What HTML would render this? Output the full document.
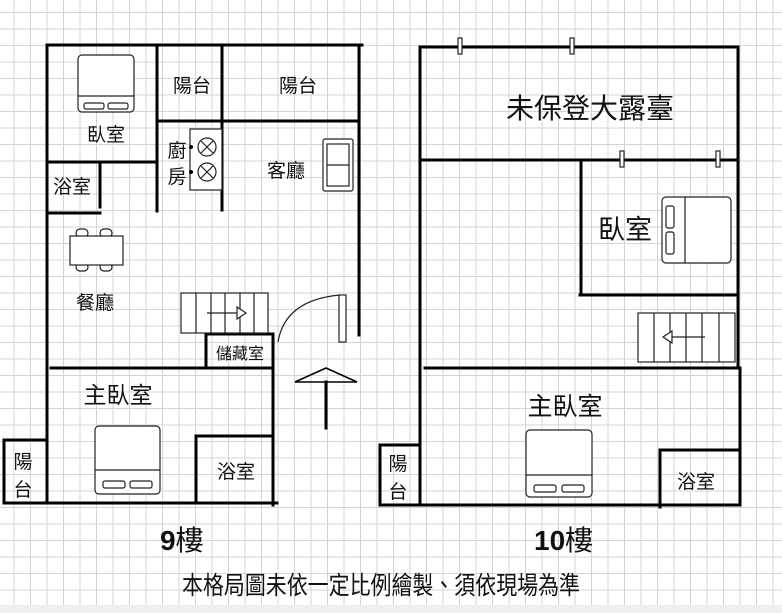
<!DOCTYPE html>
<html><head><meta charset="utf-8"><style>
html,body{margin:0;padding:0;}
body{width:782px;height:613px;overflow:hidden;background:#fff;}
.bg{position:absolute;left:0;top:0;width:782px;height:613px;
background-image:linear-gradient(to right,#d4d4d4 1px,transparent 1px),linear-gradient(to bottom,#d4d4d4 1px,transparent 1px);
background-size:16.5px 16.5px;background-position:13.5px 12px;}
.foot{position:absolute;left:0;top:605px;width:782px;height:8px;background:#eef0f0;}
svg{position:absolute;left:0;top:0;}
text{font-family:"Liberation Sans","Noto Sans CJK TC",sans-serif;fill:#111;}
</style></head><body>
<div class="bg"></div><div class="foot"></div>
<svg width="782" height="613" viewBox="0 0 782 613">
<g stroke="#000" stroke-width="3" fill="none" stroke-linecap="square">
<line x1="47" y1="45" x2="362" y2="45"/>
<line x1="47" y1="45" x2="47" y2="503"/>
<line x1="359" y1="45" x2="359" y2="335"/>
<line x1="157" y1="45" x2="157" y2="211"/>
<line x1="222" y1="45" x2="222" y2="210"/>
<line x1="157" y1="121" x2="359" y2="121"/>
<line x1="49" y1="162" x2="155" y2="162"/>
<line x1="100" y1="165" x2="100" y2="207"/>
<line x1="48" y1="213" x2="100" y2="213"/>
<line x1="206" y1="334" x2="206" y2="368"/>
<line x1="206" y1="334" x2="273" y2="334"/>
<line x1="273" y1="334" x2="273" y2="505"/>
<line x1="51" y1="368" x2="270" y2="368"/>
<line x1="196" y1="436" x2="273" y2="436"/>
<line x1="196" y1="436" x2="196" y2="503"/>
<line x1="5" y1="503" x2="277" y2="503"/>
<line x1="4" y1="440" x2="46" y2="440"/>
<line x1="4" y1="440" x2="4" y2="503"/>
<line x1="326" y1="382" x2="326" y2="428"/>
<line x1="359" y1="297" x2="359" y2="335"/>
<line x1="420" y1="47" x2="738" y2="47"/>
<line x1="420" y1="47" x2="420" y2="505"/>
<line x1="738" y1="47" x2="738" y2="160"/>
<line x1="738" y1="160" x2="738" y2="365"/>
<line x1="422" y1="160" x2="738" y2="160"/>
<line x1="581" y1="160" x2="581" y2="295"/>
<line x1="580" y1="295" x2="737" y2="295"/>
<line x1="425" y1="368" x2="740" y2="368"/>
<line x1="740" y1="368" x2="740" y2="505"/>
<line x1="660" y1="450" x2="740" y2="450"/>
<line x1="660" y1="450" x2="660" y2="507"/>
<line x1="380" y1="505" x2="740" y2="505"/>
<line x1="380" y1="445" x2="419" y2="445"/>
<line x1="380" y1="445" x2="380" y2="505"/>
</g>
<g stroke="#222" stroke-width="1.2" fill="#fff">
<rect x="458" y="38" width="4" height="16"/><rect x="570" y="38" width="4" height="16"/>
<rect x="620" y="151" width="4" height="16"/><rect x="716" y="151" width="4" height="16"/>
<rect x="190" y="129" width="32" height="61"/>
<circle cx="207" cy="147" r="9"/><circle cx="207" cy="172" r="9"/>
<rect x="323" y="139" width="30" height="52" rx="2"/>
<rect x="327" y="144" width="22" height="42"/>
<line x1="327" y1="165" x2="349" y2="165"/>
<rect x="78" y="55" width="56" height="57" rx="4"/>
<line x1="78" y1="96" x2="134" y2="96"/>
<rect x="84" y="103" width="20" height="6" rx="2"/><rect x="108" y="103" width="20" height="6" rx="2"/>
<rect x="76" y="229" width="12" height="8" rx="4"/><rect x="100" y="229" width="12" height="8" rx="4"/>
<rect x="76" y="263" width="12" height="8" rx="4"/><rect x="100" y="263" width="12" height="8" rx="4"/>
<rect x="70" y="236" width="53" height="29"/>
<rect x="181" y="293" width="87" height="40"/>
<rect x="339" y="295" width="7" height="47"/>
<rect x="95" y="426" width="65" height="68" rx="4"/>
<line x1="95" y1="470" x2="160" y2="470"/>
<rect x="103" y="481" width="22" height="7" rx="2"/><rect x="130" y="481" width="22" height="7" rx="2"/>
<rect x="662" y="197" width="69" height="66" rx="4"/>
<line x1="685" y1="197" x2="685" y2="263"/>
<rect x="666" y="206" width="8" height="22" rx="2"/><rect x="666" y="232" width="8" height="22" rx="2"/>
<rect x="638" y="313" width="97" height="49"/>
<rect x="526" y="430" width="66" height="67" rx="4"/>
<line x1="526" y1="475" x2="592" y2="475"/>
<rect x="534" y="485" width="22" height="7" rx="2"/><rect x="562" y="485" width="22" height="7" rx="2"/>
</g>
<g stroke="#222" stroke-width="1.2" fill="none">
<line x1="201" y1="141" x2="213" y2="153"/><line x1="213" y1="141" x2="201" y2="153"/>
<line x1="201" y1="166" x2="213" y2="178"/><line x1="213" y1="166" x2="201" y2="178"/>
<line x1="196" y1="293" x2="196" y2="333"/><line x1="211" y1="293" x2="211" y2="333"/>
<line x1="225" y1="293" x2="225" y2="333"/><line x1="240" y1="293" x2="240" y2="333"/>
<line x1="254" y1="293" x2="254" y2="333"/>
<line x1="207" y1="313" x2="237" y2="313"/>
<polygon points="237,307 246,313 237,319" fill="#fff"/>
<path d="M278,342 Q285,300 340,295"/>
<line x1="654" y1="313" x2="654" y2="362"/><line x1="670" y1="313" x2="670" y2="362"/>
<line x1="686" y1="313" x2="686" y2="362"/><line x1="702" y1="313" x2="702" y2="362"/>
<line x1="719" y1="313" x2="719" y2="362"/>
<line x1="672" y1="337" x2="705" y2="337"/>
<polygon points="672,331 663,337 672,343" fill="#fff"/>
<polyline points="295,382 326,368 357,382" stroke="#000" stroke-width="1.6"/>
<line x1="295" y1="382" x2="357" y2="382" stroke="#000" stroke-width="1.4"/>
</g>
<circle cx="191" cy="147" r="2" fill="#000"/><circle cx="191" cy="172" r="2" fill="#000"/>
<g font-size="19" text-anchor="middle">
<text x="106" y="141">臥室</text>
<text x="192" y="92">陽台</text>
<text x="298" y="92">陽台</text>
<text x="177" y="157">廚</text>
<text x="177" y="183">房</text>
<text x="72" y="193">浴室</text>
<text x="286" y="177">客廳</text>
<text x="95" y="309">餐廳</text>
<text x="240" y="359" font-size="16">儲藏室</text>
<text x="118" y="403" font-size="23">主臥室</text>
<text x="236" y="478">浴室</text>
<text x="23" y="468">陽</text>
<text x="23" y="496">台</text>
<text x="590" y="118" font-size="28">未保登大露臺</text>
<text x="625" y="239" font-size="27">臥室</text>
<text x="565" y="415" font-size="25">主臥室</text>
<text x="696" y="488">浴室</text>
<text x="398" y="470">陽</text>
<text x="398" y="498">台</text>
</g>
<text x="160" y="550" font-size="28" font-weight="bold">9<tspan font-weight="normal">樓</tspan></text>
<text x="534" y="550" font-size="28" font-weight="bold">10<tspan font-weight="normal">樓</tspan></text>
<text x="182" y="594" font-size="25" textLength="398" lengthAdjust="spacingAndGlyphs">本格局圖未依一定比例繪製、須依現場為準</text>
</svg>
</body></html>
